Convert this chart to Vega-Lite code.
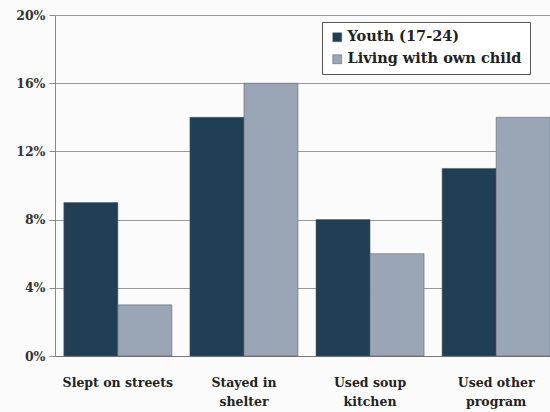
{
  "$schema": "https://vega.github.io/schema/vega-lite/v6.json",
  "autosize": "none",
  "padding": {"left": 55, "top": 15, "right": 0, "bottom": 56},
  "width": 504,
  "height": 341,
  "background": "#fbfbfb",
  "config": {
    "view": {"stroke": null},
    "font": "DejaVu Serif"
  },
  "data": {
    "values": [
      {"category": "Slept on streets", "group": "Youth (17-24)", "value": 9},
      {"category": "Slept on streets", "group": "Living with own child", "value": 3},
      {"category": "Stayed in shelter", "group": "Youth (17-24)", "value": 14},
      {"category": "Stayed in shelter", "group": "Living with own child", "value": 16},
      {"category": "Used soup kitchen", "group": "Youth (17-24)", "value": 8},
      {"category": "Used soup kitchen", "group": "Living with own child", "value": 6},
      {"category": "Used other program", "group": "Youth (17-24)", "value": 11},
      {"category": "Used other program", "group": "Living with own child", "value": 14}
    ]
  },
  "mark": {"type": "bar", "stroke": "#555", "strokeWidth": 0.5},
  "encoding": {
    "x": {
      "field": "category",
      "type": "nominal",
      "sort": ["Slept on streets", "Stayed in shelter", "Used soup kitchen", "Used other program"],
      "scale": {"paddingInner": 0.143, "paddingOuter": 0.07},
      "axis": {
        "title": null,
        "labelAngle": 0,
        "labelFont": "DejaVu Serif",
        "labelFontWeight": "bold",
        "labelFontSize": 12.5,
        "labelColor": "#222",
        "labelPadding": 20,
        "labelLineHeight": 19,
        "ticks": false,
        "domainColor": "#777",
        "labelExpr": "datum.value == 'Stayed in shelter' ? ['Stayed in', 'shelter'] : datum.value == 'Used soup kitchen' ? ['Used soup', 'kitchen'] : datum.value == 'Used other program' ? ['Used other', 'program'] : datum.value"
      }
    },
    "xOffset": {
      "field": "group",
      "type": "nominal",
      "sort": ["Youth (17-24)", "Living with own child"]
    },
    "y": {
      "field": "value",
      "type": "quantitative",
      "scale": {"domain": [0, 20], "nice": false},
      "axis": {
        "title": null,
        "values": [0, 4, 8, 12, 16, 20],
        "labelExpr": "datum.value + '%'",
        "labelFont": "DejaVu Serif",
        "labelFontWeight": "bold",
        "labelFontSize": 12.5,
        "labelColor": "#333",
        "labelPadding": 4,
        "tickSize": 6,
        "tickColor": "#888",
        "domainColor": "#888",
        "gridColor": "#999",
        "gridWidth": 1
      }
    },
    "color": {
      "field": "group",
      "type": "nominal",
      "sort": ["Youth (17-24)", "Living with own child"],
      "scale": {"domain": ["Youth (17-24)", "Living with own child"], "range": ["#203f55", "#9aa6b6"]},
      "legend": {
        "title": null,
        "orient": "none",
        "legendX": 267,
        "legendY": 7,
        "direction": "vertical",
        "symbolType": "square",
        "symbolSize": 80,
        "symbolStrokeColor": "#555",
        "symbolStrokeWidth": 0.5,
        "labelFont": "DejaVu Serif",
        "labelFontWeight": "bold",
        "labelFontSize": 14.5,
        "labelLimit": 400,
        "labelColor": "#222",
        "labelOffset": 3,
        "rowPadding": 7,
        "padding": 8,
        "offset": 0,
        "fillColor": "#ffffff",
        "strokeColor": "#555"
      }
    }
  }
}
